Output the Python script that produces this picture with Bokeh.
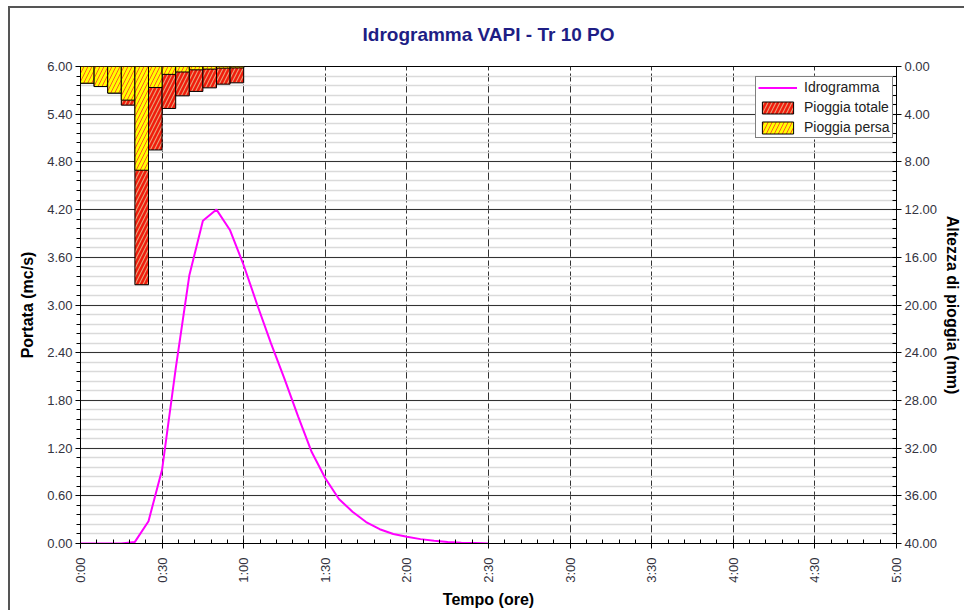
import math
from bokeh.plotting import figure
from bokeh.layouts import column
from bokeh.models import (Range1d, LinearAxis, FixedTicker, SingleIntervalTicker,
                          NumeralTickFormatter, Legend, LegendItem, ColumnDataSource,
                          Title)
from bokeh.embed import file_html
from bokeh.resources import INLINE

# ---------------- data ----------------
time_min = [0, 5, 10, 15, 20, 25, 30, 35, 40, 45, 50, 55, 60, 65, 70, 75, 80, 85,
            90, 95, 100, 105, 110, 115, 120, 125, 130, 135, 140, 145, 150]
portata = [0.0, 0.0, 0.0, 0.0, 0.02, 0.28, 0.93, 2.2, 3.37, 4.06, 4.2, 3.94, 3.5,
           3.0, 2.52, 2.07, 1.6, 1.15, 0.82, 0.56, 0.4, 0.27, 0.18, 0.12, 0.085,
           0.055, 0.035, 0.02, 0.01, 0.005, 0.0]

rain_time = [2.5, 7.5, 12.5, 17.5, 22.5, 27.5, 32.5, 37.5, 42.5, 47.5, 52.5, 57.5]
pioggia_totale = [1.40, 1.68, 2.23, 3.24, 18.3, 7.0, 3.52, 2.46, 2.09, 1.79, 1.48, 1.37]
pioggia_persa = [1.40, 1.68, 2.23, 2.82, 8.7, 1.76, 0.66, 0.46, 0.28, 0.22, 0.14, 0.12]

x_tick_minutes = [0, 30, 60, 90, 120, 150, 180, 210, 240, 270, 300]
x_tick_labels = ["0:00", "0:30", "1:00", "1:30", "2:00", "2:30", "3:00", "3:30",
                 "4:00", "4:30", "5:00"]

title_text = "Idrogramma VAPI - Tr 10 PO"
FONT = "Liberation Sans"

# ---------------- figure ----------------
p = figure(width=954, height=602, output_backend="svg", toolbar_location=None,
           x_range=Range1d(0, 300), y_range=Range1d(0, 6),
           min_border_left=70, min_border_right=67, min_border_top=58,
           min_border_bottom=67, background_fill_color="white",
           border_fill_color="white", outline_line_color="black")
p.extra_y_ranges = {"rain": Range1d(40, 0)}

# real title (outermost), with an invisible spacer title next to the frame
p.title.text = title_text
p.title.align = "center"
p.title.text_font = FONT
p.title.text_font_size = "19px"
p.title.text_font_style = "bold"
p.title.text_color = "#1e1e85"
p.title.standoff = 0

spacer = Title(text=" ", text_font_size="4px", standoff=15)
p.add_layout(spacer, "above")

# x axis
xa = p.xaxis[0]
xa.ticker = FixedTicker(ticks=x_tick_minutes, minor_ticks=list(range(0, 301, 6)))
xa.major_label_overrides = {m: l for m, l in zip(x_tick_minutes, x_tick_labels)}
xa.major_label_orientation = math.pi / 2
xa.axis_label = "Tempo (ore)"

# left axis
ya = p.yaxis[0]
ya.ticker = SingleIntervalTicker(interval=0.6, num_minor_ticks=5)
ya.formatter = NumeralTickFormatter(format="0.00")
ya.axis_label = "Portata (mc/s)"

# right axis
ra = LinearAxis(y_range_name="rain", axis_label="Altezza di pioggia (mm)",
                ticker=SingleIntervalTicker(interval=4, num_minor_ticks=5),
                formatter=NumeralTickFormatter(format="0.00"))
p.add_layout(ra, "right")

for ax in (xa, ya, ra):
    ax.axis_line_color = "black"
    ax.major_tick_line_color = "black"
    ax.minor_tick_line_color = "black"
    ax.major_label_text_font = FONT
    ax.major_label_text_font_size = "13px"
    ax.major_label_text_color = "#333340"
    ax.axis_label_text_font = FONT
    ax.axis_label_text_font_size = "16px"
    ax.axis_label_text_font_style = "bold"
    ax.axis_label_text_color = "black"
    ax.major_tick_in = 0
    ax.major_tick_out = 5

xa.minor_tick_in = 4
xa.minor_tick_out = 0
xa.major_label_standoff = 9
xa.axis_label_standoff = 5
ya.minor_tick_in = 0
ya.minor_tick_out = 4
ya.major_label_standoff = 3
ya.axis_label_standoff = 8
ra.minor_tick_in = 4
ra.minor_tick_out = 0
ra.major_label_standoff = 3
ra.axis_label_standoff = 4

# grids
p.xgrid.grid_line_color = "#333333"
p.xgrid.grid_line_dash = "8 3"
p.xgrid.grid_line_width = 1
p.ygrid.grid_line_color = "#333333"
p.ygrid.grid_line_width = 1
p.ygrid.minor_grid_line_color = "#dadada"
p.ygrid.minor_grid_line_width = 1.5

# ---------------- glyphs ----------------
src = ColumnDataSource(dict(x=rain_time, tot=pioggia_totale, persa=pioggia_persa))
r_tot = p.vbar(x="x", width=5, top=0, bottom="tot", source=src, y_range_name="rain",
               fill_color="#f01c0c", line_color="black", line_width=1,
               hatch_pattern="/", hatch_color="#e8a27a", hatch_scale=8,
               hatch_weight=1.1)
r_persa = p.vbar(x="x", width=5, top=0, bottom="persa", source=src, y_range_name="rain",
                 fill_color="#ffff00", line_color="black", line_width=1,
                 hatch_pattern="/", hatch_color="#ff5522", hatch_scale=8,
                 hatch_weight=1.0)
r_line = p.line(time_min, portata, line_color="#ff00ff", line_width=2)

legend = Legend(items=[LegendItem(label="Idrogramma", renderers=[r_line]),
                       LegendItem(label="Pioggia totale", renderers=[r_tot]),
                       LegendItem(label="Pioggia persa", renderers=[r_persa])],
                location=(675, 405))
legend.label_text_font = FONT
legend.label_text_font_size = "14px"
legend.label_text_color = "#222222"
legend.glyph_width = 39
legend.glyph_height = 15
legend.label_height = 15
legend.spacing = 4
legend.padding = 2
legend.margin = 0
legend.label_standoff = 7
legend.border_line_color = "black"
legend.border_line_width = 1
legend.background_fill_color = "white"
legend.background_fill_alpha = 1
p.add_layout(legend)

layout = column(p, styles={"border-left": "2px solid #555555",
                           "border-top": "2px solid #555555",
                           "margin-left": "8px", "margin-top": "6px"})

open("out.html", "w").write(file_html(layout, INLINE))
